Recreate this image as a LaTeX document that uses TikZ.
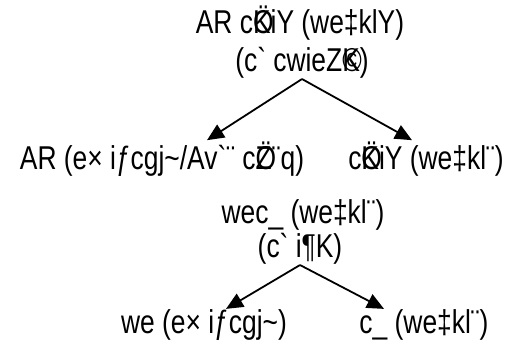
\documentclass[tikz,border=0pt]{standalone}
\usepackage{fontspec}
\usetikzlibrary{arrows.meta}
\newfontfamily\bnfont[FakeStretch=0.8]{Liberation Sans}
\begin{document}
\begin{tikzpicture}[x=1pt,y=-1pt,
    every node/.style={font=\bnfont\fontsize{33}{40}\selectfont,inner sep=0pt,anchor=base},
    link/.style={-{Triangle[length=17pt,width=15pt]},line width=1.8pt}]
    \useasboundingbox (0,0) rectangle (506,344);
    \node (root) at (300,34) {AR c\rlap{Ö}KiY (we‡klY)};
    \node (rootgl) at (302,72) {(c` cwieZ\rlap{©}K)};
    \node (left) at (162,170) {AR (e× iƒcgj\textasciitilde/Av`¨ c\rlap{Ö}Z¨q)};
    \node (right) at (426,170) {c\rlap{Ö}KiY (we‡kl¨)};
    \draw[link] (rootgl.south) -- ([xshift=45pt,yshift=2pt]left.north);
    \draw[link] (rootgl.south) -- ([xshift=-14pt,yshift=2pt]right.north);
    \node (word) at (303,224) {wec\_ (we‡kl¨)};
    \node (wordgl) at (300,258) {(c` i¶K)};
    \node (pre) at (204,334) {we (e× iƒcgj\textasciitilde)};
    \node (stem) at (424,334) {c\_ (we‡kl¨)};
    \draw[link] (wordgl.south) -- ([xshift=22pt,yshift=1pt]pre.north);
    \draw[link] (wordgl.south) -- ([xshift=-40pt,yshift=1pt]stem.north);
\end{tikzpicture}
\end{document}
